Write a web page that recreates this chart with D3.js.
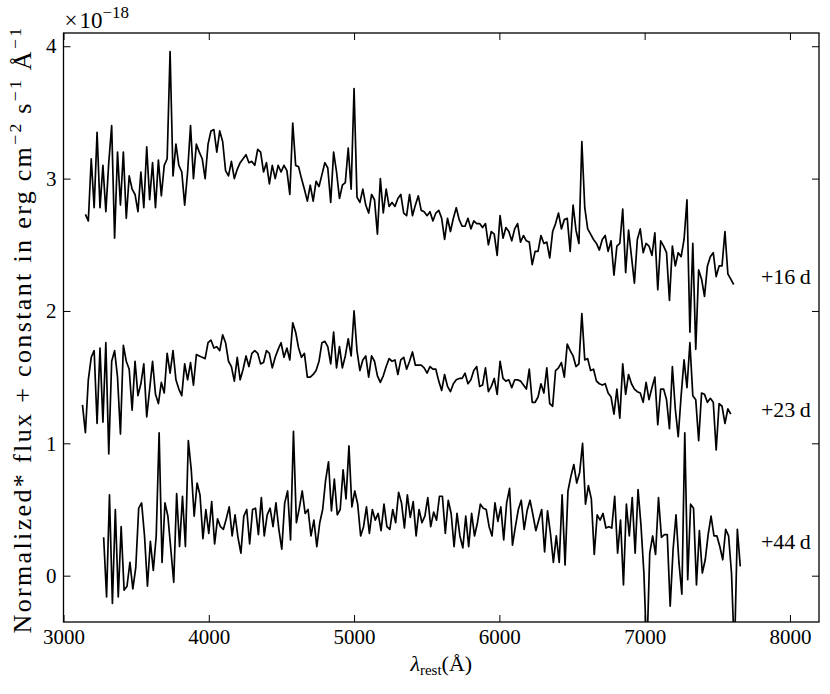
<!DOCTYPE html>
<html><head><meta charset="utf-8">
<script src="https://cdn.jsdelivr.net/npm/d3@7"></script>
<style>
body{margin:0;background:#fff}
svg text{font-family:"Liberation Serif","Times New Roman",Times,serif;fill:#000}
</style>
</head><body><svg id="chart" width="830" height="694"></svg>
<script>
// ---- data (flux in units of 1e-18) ----
const xTicks=[3000,4000,5000,6000,7000,8000];
const yTicks=[0,1,2,3,4];
const epochLabels=["+16\u2009d","+23\u2009d","+44\u2009d"];
const epochLabelY=[2.2,1.2,0.2];
const wlStep=20.1;
const wlStart16=3150.7, wlStart23=3130.6, wlStart44=3276.3;
const flux16=[
2.73,2.68,3.15,2.78,3.35,2.78,3.10,2.75,3.12,3.40,
2.55,3.20,2.80,3.20,2.70,3.02,2.92,2.88,2.75,3.05,
2.78,3.24,2.84,3.12,2.78,3.14,2.87,3.10,3.15,3.96,
3.02,3.26,3.10,3.05,2.80,3.05,3.40,3.00,3.26,3.20,
3.15,3.00,3.26,3.36,3.37,3.20,3.36,3.28,3.06,3.02,
3.13,3.00,3.07,3.12,3.15,3.18,3.12,3.13,3.10,3.22,
3.20,3.05,3.12,2.96,3.10,3.00,3.10,3.05,3.10,3.06,
2.88,3.42,3.10,3.09,3.00,2.92,2.83,2.95,2.83,2.98,
2.94,3.03,3.12,3.08,2.82,3.20,3.05,2.85,2.95,2.97,
3.23,2.92,3.68,2.86,2.82,2.92,2.80,2.74,2.88,2.84,
2.58,3.00,2.74,2.92,2.79,2.82,2.79,2.85,2.88,2.74,
2.72,2.88,2.72,2.80,2.87,2.76,2.75,2.72,2.75,2.68,
2.74,2.76,2.70,2.54,2.70,2.60,2.70,2.78,2.69,2.64,
2.64,2.70,2.62,2.68,2.66,2.66,2.63,2.66,2.50,2.60,
2.58,2.42,2.72,2.55,2.63,2.60,2.53,2.62,2.66,2.52,
2.57,2.53,2.52,2.35,2.45,2.45,2.57,2.51,2.52,2.40,
2.60,2.66,2.74,2.62,2.69,2.70,2.45,2.80,2.61,2.51,
3.28,2.78,2.62,2.58,2.54,2.51,2.46,2.54,2.57,2.45,
2.53,2.27,2.49,2.51,2.77,2.29,2.61,2.41,2.21,2.54,
2.62,2.44,2.51,2.49,2.42,2.59,2.16,2.53,2.49,2.44,
2.08,2.49,2.34,2.44,2.41,2.54,2.84,1.84,2.51,1.71,
2.31,2.24,2.11,2.34,2.41,2.44,2.26,2.34,2.34,2.60,
2.28,2.24,2.20];
const flux23=[
1.29,1.08,1.48,1.65,1.70,1.15,1.72,1.16,1.76,0.92,
1.62,1.70,1.50,1.07,1.74,1.62,1.56,1.25,1.62,1.36,
1.45,1.60,1.20,1.41,1.62,1.37,1.30,1.46,1.38,1.68,
1.53,1.70,1.48,1.41,1.36,1.60,1.48,1.61,1.44,1.67,
1.66,1.65,1.64,1.76,1.78,1.72,1.73,1.70,1.82,1.76,
1.62,1.58,1.47,1.65,1.48,1.56,1.66,1.58,1.68,1.70,
1.68,1.60,1.61,1.70,1.68,1.57,1.65,1.71,1.76,1.65,
1.72,1.63,1.91,1.84,1.72,1.65,1.68,1.50,1.50,1.52,
1.55,1.62,1.76,1.77,1.73,1.60,1.84,1.57,1.73,1.57,
1.66,1.79,1.66,2.00,1.70,1.55,1.63,1.66,1.50,1.66,
1.62,1.51,1.46,1.51,1.58,1.64,1.62,1.63,1.52,1.63,
1.65,1.56,1.62,1.69,1.59,1.59,1.59,1.57,1.53,1.58,
1.56,1.56,1.47,1.40,1.52,1.43,1.39,1.45,1.48,1.49,
1.49,1.53,1.45,1.48,1.55,1.58,1.43,1.44,1.57,1.39,
1.43,1.49,1.37,1.62,1.49,1.47,1.48,1.42,1.48,1.48,
1.47,1.44,1.41,1.56,1.31,1.31,1.35,1.45,1.38,1.57,
1.30,1.28,1.55,1.57,1.61,1.50,1.75,1.70,1.66,1.58,
1.60,1.98,1.63,1.64,1.55,1.56,1.47,1.45,1.44,1.45,
1.38,1.35,1.22,1.41,1.19,1.60,1.37,1.52,1.45,1.41,
1.39,1.38,1.31,1.46,1.33,1.42,1.50,1.14,1.41,1.41,
1.33,1.11,1.58,1.26,1.05,1.36,1.63,1.42,1.76,1.36,
1.33,1.02,1.38,1.37,1.31,1.34,1.31,0.95,1.30,1.28,
1.15,1.26,1.22];
const flux44=[
0.29,-0.16,0.61,-0.21,0.50,-0.16,0.37,-0.11,-0.08,0.10,
-0.10,0.06,0.51,0.55,0.30,-0.08,0.26,0.04,0.30,1.08,
0.10,0.55,0.45,0.20,-0.05,0.62,0.22,0.60,0.22,1.02,
0.80,0.45,0.70,0.61,0.28,0.50,0.32,0.56,0.24,0.43,
0.37,0.35,0.43,0.52,0.30,0.46,0.29,0.17,0.45,0.50,
0.24,0.50,0.51,0.31,0.59,0.30,0.46,0.51,0.37,0.55,
0.35,0.20,0.55,0.64,0.27,1.09,0.40,0.51,0.64,0.47,
0.50,0.30,0.42,0.22,0.40,0.50,0.72,0.86,0.49,0.73,
0.46,0.50,0.80,0.58,0.98,0.52,0.64,0.54,0.30,0.37,
0.52,0.32,0.50,0.42,0.47,0.34,0.54,0.37,0.35,0.50,
0.40,0.63,0.55,0.36,0.61,0.44,0.56,0.30,0.50,0.40,
0.45,0.59,0.37,0.48,0.42,0.60,0.60,0.32,0.57,0.47,
0.22,0.47,0.30,0.21,0.45,0.22,0.47,0.30,0.40,0.54,
0.51,0.50,0.37,0.30,0.55,0.41,0.52,0.27,0.55,0.66,
0.23,0.37,0.50,0.57,0.35,0.49,0.57,0.46,0.34,0.42,
0.50,0.18,0.49,0.32,0.10,0.30,0.10,0.61,0.08,0.64,
0.75,0.84,0.70,0.78,1.00,0.54,0.68,0.58,0.16,0.46,
0.42,0.47,0.36,0.37,0.36,0.60,0.17,0.42,-0.07,0.54,
0.30,0.59,0.17,0.65,0.38,0.02,-0.60,0.17,0.30,0.16,
0.59,0.29,0.31,0.31,-0.23,0.20,0.46,0.10,-0.14,1.08,
-0.03,0.54,0.51,-0.07,0.34,0.02,0.12,0.31,0.45,0.30,
0.30,0.22,0.12,0.35,0.30,0.02,-0.60,0.35,0.07];

// ---- layout ----
const L=63.5, R=819, T=33, B=622;
const svg=d3.select("#chart");
const x=d3.scaleLinear().domain([3000,8200]).range([L,R]);
const y=d3.scaleLinear().domain([-0.35,4.1]).range([B,T]);

svg.append("defs").append("clipPath").attr("id","plotclip")
  .append("rect").attr("x",L).attr("y",T).attr("width",R-L).attr("height",B-T);

const series=[
  {start:wlStart16,flux:flux16},
  {start:wlStart23,flux:flux23},
  {start:wlStart44,flux:flux44}
];
const g=svg.append("g").attr("clip-path","url(#plotclip)");
series.forEach(s=>{
  const line=d3.line().x((d,i)=>x(s.start+i*wlStep)).y(d=>y(d));
  g.append("path").datum(s.flux).attr("d",line)
    .attr("fill","none").attr("stroke","#000").attr("stroke-width",1.7)
    .attr("stroke-linejoin","round");
});

// axes (inward ticks on all four sides)
const fs=21;
const ax=svg.append("g").attr("transform",`translate(0,${B})`)
  .call(d3.axisBottom(x).tickValues(xTicks).tickFormat(d3.format("d")).tickSizeInner(-7).tickSizeOuter(0).tickPadding(7));
const ay=svg.append("g").attr("transform",`translate(${L},0)`)
  .call(d3.axisLeft(y).tickValues(yTicks).tickFormat(d3.format("d")).tickSizeInner(-7).tickSizeOuter(0).tickPadding(7));
const at=svg.append("g").attr("transform",`translate(0,${T})`)
  .call(d3.axisTop(x).tickValues(xTicks).tickFormat("").tickSizeInner(-7).tickSizeOuter(0));
const ar=svg.append("g").attr("transform",`translate(${R},0)`)
  .call(d3.axisRight(y).tickValues(yTicks).tickFormat("").tickSizeInner(-7).tickSizeOuter(0));
[ax,ay,at,ar].forEach(a=>{
  a.select(".domain").remove();
  a.selectAll("line").attr("stroke","#000").attr("stroke-width",1);
  a.selectAll("text").attr("font-size",fs).attr("font-family",null);
});
svg.append("rect").attr("x",L).attr("y",T).attr("width",R-L).attr("height",B-T)
  .attr("fill","none").attr("stroke","#000").attr("stroke-width",1.3);

// offset text
const off=svg.append("text").attr("x",L+1).attr("y",28).attr("font-size",23);
off.append("tspan").text("\u00d7");
off.append("tspan").attr("dx",2).text("10");
off.append("tspan").attr("dy",-10).attr("font-size",17).text("\u221218");

// epoch labels
epochLabels.forEach((t,i)=>{
  svg.append("text").attr("x",x(7800)).attr("y",y(epochLabelY[i]))
    .attr("font-size",22).text(t);
});

// x label
const xl=svg.append("text").attr("x",(L+R)/2).attr("y",671).attr("text-anchor","middle").attr("font-size",22);
xl.append("tspan").attr("font-style","italic").text("\u03bb");
xl.append("tspan").attr("font-size",15).attr("dy",4).text("rest");
xl.append("tspan").attr("dy",-4).text("(\u00c5)");

// y label: spans the same height as the reference label
const ySize=26;
const yl=svg.append("text").attr("transform",`translate(31,${(T+B)/2 + 2}) rotate(-90)`)
  .attr("text-anchor","middle").attr("font-size",ySize);
const parts=[["Normalized* flux + constant in erg\u2009cm",0,1],["\u22122",-1,0.68],["\u2009s",1,1],["\u22121",-1,0.68],["\u2009\u00c5",1,1],["\u22121",-1,0.68]];
parts.forEach(p=>{
  yl.append("tspan").attr("dy",p[1]*ySize*0.4).attr("font-size",ySize*p[2]).text(p[0]);
});
const len=yl.node().getComputedTextLength();
const nChars=parts.reduce((a,p)=>a+p[0].length,0);
yl.attr("letter-spacing",Math.max(0,(608-len)/nChars));
</script>
</body></html>
